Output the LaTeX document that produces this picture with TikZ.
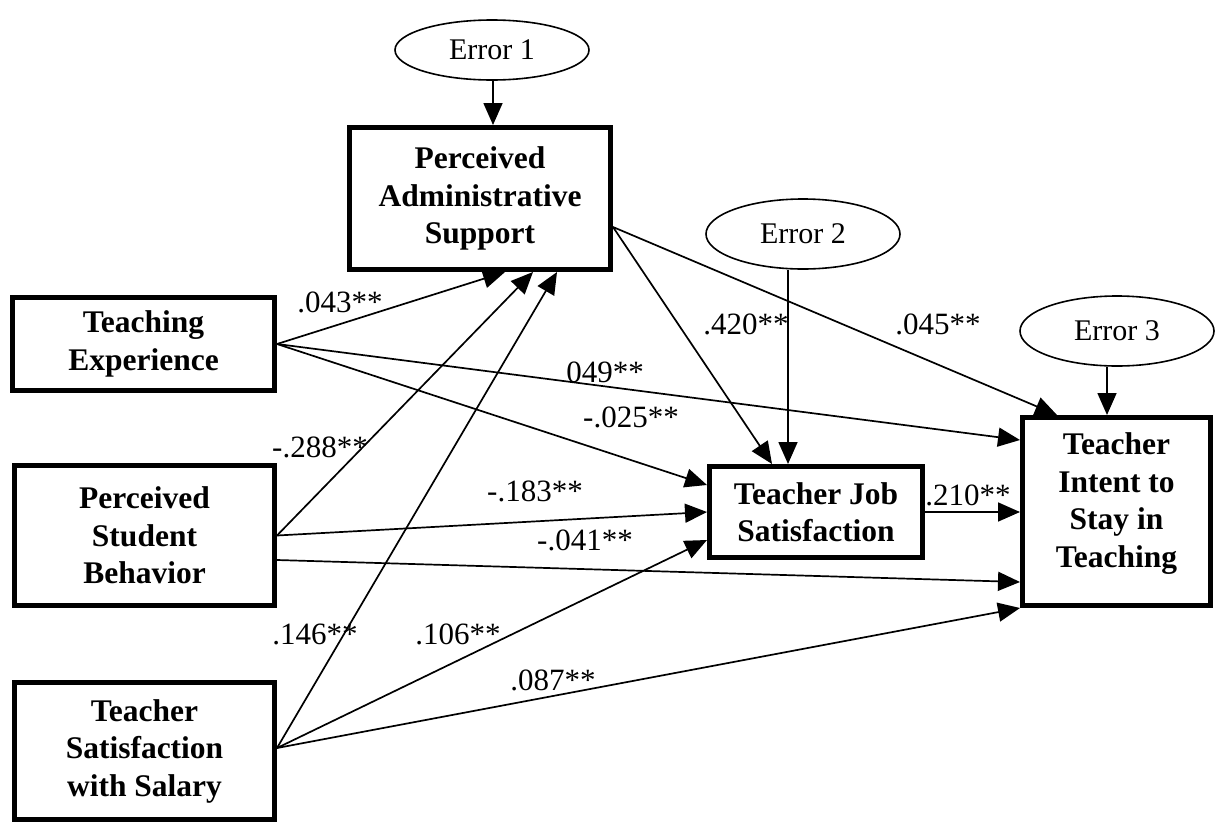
\documentclass[tikz,border=0pt]{standalone}
\usepackage{fontspec}
\setmainfont{Liberation Serif}
\usetikzlibrary{arrows.meta, shapes.geometric}
\tikzset{
    var/.style = {draw, fill=white, line width=5pt, align=center, inner sep=0pt,
        font=\bfseries\fontsize{31.5}{37.5}\selectfont},
    err/.style = {draw, ellipse, line width=1.6pt, inner sep=0pt,
        minimum width=194pt, minimum height=66pt, font=\fontsize{30}{36}\selectfont},
    effect/.style = {-{Triangle[length=22pt, width=19pt]}, line width=1.7pt},
    coef/.style = {inner sep=0pt, font=\fontsize{31}{37}\selectfont}
}

\begin{document}
\begin{tikzpicture}[x=1pt, y=-1pt]
    \useasboundingbox (0,0) rectangle (1215,825);
    % path coefficients
    \foreach \name/\x/\y/\txt in {l043/340/302/.043**, l288/320/447/-.288**, l146/315/634/.146**,
        l106/458/634/.106**, l087/553/680/.087**, l183/535/491/-.183**, l041/585/540/-.041**,
        l025/631/417/-.025**, l049/605/372/049**, l420/746/324/.420**, l045/938/324/.045**,
        l210/968/495/.210**}
        \node[coef] (\name) at (\x,\y) {\txt};
    % error terms
    \node[err, minimum height=60pt] (err1) at (492,50) {Error 1};
    \node[err, minimum height=70pt] (err2) at (803,234) {Error 2};
    \node[err, minimum height=70pt] (err3) at (1117,331) {Error 3};
    % variables
    \node[var, minimum width=261pt, minimum height=142pt] (adm) at (480,198.5) {Perceived\\Administrative\\Support};
    \node[var, minimum width=262pt, minimum height=93pt] (exp) at (143.5,344) {Teaching\\Experience};
    \node[var, minimum width=260pt, minimum height=140pt] (stu) at (144.5,535.5) {Perceived\\Student\\Behavior};
    \node[var, minimum width=260pt, minimum height=137pt] (sal) at (144.5,751) {Teacher\\Satisfaction\\with Salary};
    \node[var, minimum width=213pt, minimum height=91pt] (job) at (816,512) {Teacher Job\\Satisfaction};
    \node[var, minimum width=188pt, minimum height=188pt] (stay) at (1116.5,511.5) {Teacher\\Intent to\\Stay in\\Teaching\\[-15pt]\mbox{}};
    % disturbances
    \draw[effect] ([xshift=1pt]err1.south) -- ([xshift=1pt]err1.south |- adm.north);
    \draw[effect] ([xshift=-15pt]err2.south) -- ([xshift=-28pt]job.north);
    \draw[effect] ([xshift=-10pt]err3.south) -- ([xshift=-10pt]err3.south |- stay.north);
    % into administrative support
    \draw[effect] (exp.east) -- ([xshift=25pt]adm.south);
    \draw[effect] (stu.east) -- ([xshift=53pt]adm.south);
    \draw[effect] ([yshift=3pt]sal.east) -- ([xshift=77pt]adm.south);
    % into job satisfaction
    \draw[effect] ([yshift=-28.5pt]adm.east) -- ([xshift=-44pt]job.north);
    \draw[effect] (exp.east) -- ([yshift=27pt]job.west);
    \draw[effect] (stu.east) -- (job.west);
    \draw[effect] ([yshift=3pt]sal.east) -- ([yshift=-28pt]job.west);
    % into intent to stay
    \draw[effect] ([yshift=-28.5pt]adm.east) -- ([xshift=-59.5pt]stay.north);
    \draw[effect] (exp.east) -- ([yshift=71.5pt]stay.west);
    \draw[effect] (job.east) -- (stay.west |- job.east);
    \draw[effect] ([yshift=-24.5pt]stu.east) -- ([yshift=-70.5pt]stay.west);
    \draw[effect] ([yshift=3pt]sal.east) -- (stay.south west);
\end{tikzpicture}
\end{document}
